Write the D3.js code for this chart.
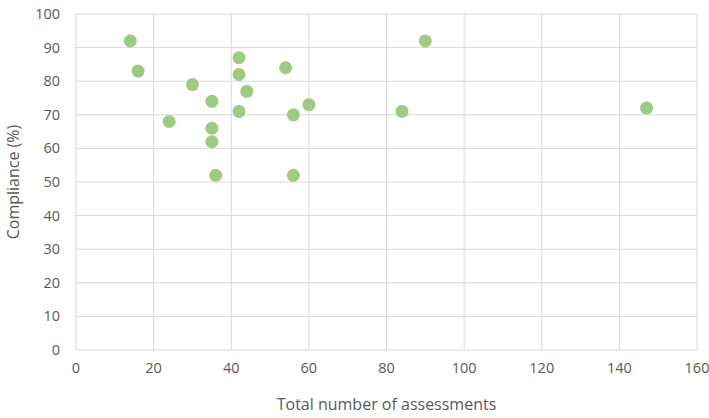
<!DOCTYPE html>
<html><head><meta charset="utf-8">
<script src="https://cdn.jsdelivr.net/npm/d3@7"></script>
<style>body{margin:0;background:#fff}</style></head>
<body><svg id="c" width="709" height="418"></svg>
<script>
const xVals=[14,16,24,30,35,35,35,36,42,42,42,44,54,56,56,60,84,90,147];
const yVals=[92,83,68,79,74,66,62,52,87,82,71,77,84,70,52,73,71,92,72];
const xTicks=[0,20,40,60,80,100,120,140,160];
const yTicks=[0,10,20,30,40,50,60,70,80,90,100];
const svg=d3.select("#c");
const x=d3.scaleLinear().domain([0,160]).range([76,697]);
const y=d3.scaleLinear().domain([0,100]).range([350,14]);
const g=svg.append("g");
g.selectAll(".v").data(xTicks).join("line").attr("x1",d=>x(d)).attr("x2",d=>x(d)).attr("y1",y(0)).attr("y2",y(100)).attr("stroke","#d9d9d9");
g.selectAll(".h").data(yTicks).join("line").attr("y1",d=>y(d)).attr("y2",d=>y(d)).attr("x1",x(0)).attr("x2",x(160)).attr("stroke","#d9d9d9");
const f="'Open Sans', sans-serif";
svg.selectAll(".xt").data(xTicks).join("text").attr("x",d=>x(d)).attr("y",y(0)+23).attr("text-anchor","middle").attr("font-family",f).attr("font-size",14.5).attr("fill","#595959").text(d=>d);
svg.selectAll(".yt").data(yTicks).join("text").attr("x",x(0)-16).attr("y",d=>y(d)+5).attr("text-anchor","end").attr("font-family",f).attr("font-size",14.5).attr("fill","#595959").text(d=>d);
svg.append("text").attr("x",(x(0)+x(160))/2).attr("y",410).attr("text-anchor","middle").attr("font-family",f).attr("font-size",16).attr("fill","#595959").text("Total number of assessments");
svg.append("text").attr("transform",`translate(19,${(y(0)+y(100))/2}) rotate(-90)`).attr("text-anchor","middle").attr("font-family",f).attr("font-size",16).attr("fill","#595959").text("Compliance (%)");
svg.selectAll(".p").data(xVals.map((v,i)=>[v,yVals[i]])).join("circle").attr("cx",d=>x(d[0])).attr("cy",d=>y(d[1])).attr("r",6.5).attr("fill","#9dcb7f");
</script></body></html>
